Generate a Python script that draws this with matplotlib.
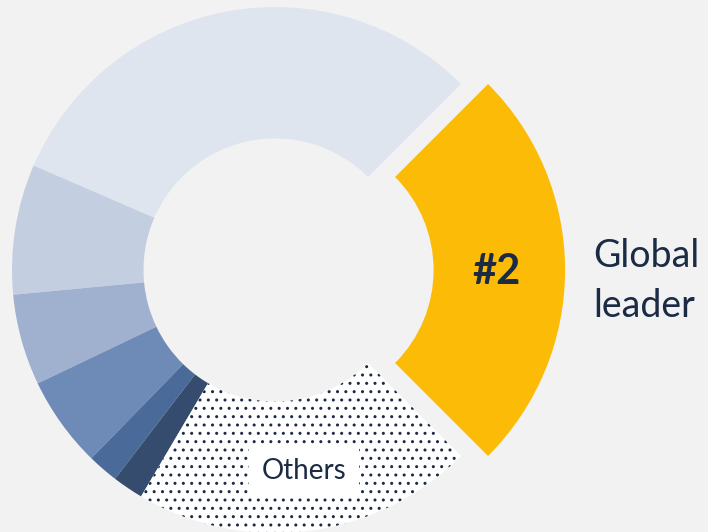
import matplotlib
matplotlib.use("Agg")
import matplotlib.pyplot as plt
import numpy as np

# ---- data (share of market, %), counter-clockwise starting at the "#2" slice
labels = ["#2", "Competitor A", "Competitor B", "Competitor C", "Competitor D",
          "Competitor E", "Competitor F", "Others"]
values = [25.0, 31.0, 8.0, 5.6, 5.6, 1.9, 1.9, 21.0]
colors = ["#fbbb07", "#dfe5ef", "#c3cfe1", "#9fb1cf", "#6d8bb6",
          "#4a6a99", "#354c6e", "#ffffff"]
explode = [0.103, 0, 0, 0, 0, 0, 0, 0]

navy = "#1c2b45"
bg = "#f2f2f2"

plt.rcParams["font.family"] = ["Lato", "DejaVu Sans"]
plt.rcParams["hatch.linewidth"] = 1.0

fig = plt.figure(figsize=(7.08, 5.32), dpi=100, facecolor=bg)
ax = fig.add_axes([0, 0, 1, 1])
ax.set_facecolor(bg)

wedges, _ = ax.pie(values, colors=colors, startangle=-45, counterclock=True,
                   explode=explode, radius=1.0,
                   wedgeprops=dict(width=0.5, linewidth=0))

# dotted "Others" slice
others = wedges[-1]
others.set_hatch("..")
others.set_edgecolor(navy)
others.set_linewidth(0)

# limits so that 1 radius = 263 px and centre sits at pixel (275, 270)
R = 263.0
cx, cy = 275.0, 270.0
ax.set_xlim(-cx / R, (708 - cx) / R)
ax.set_ylim(-(532 - cy) / R, cy / R)
ax.set_aspect("auto")
ax.axis("off")

# "#2" label in the middle of the exploded slice
w0 = wedges[0]
mid = np.deg2rad((w0.theta1 + w0.theta2) / 2)
r_mid = explode[0] + 0.75
ax.text(r_mid * np.cos(mid) - 0.01, r_mid * np.sin(mid) - 0.008, labels[0],
        ha="center", va="center", fontsize=30, fontweight="bold", color=navy)

# side annotation
ax.text(1.209, 0.0114, "Global", ha="left", va="baseline", fontsize=27, color=navy)
ax.text(1.209, -0.1787, "leader", ha="left", va="baseline", fontsize=27, color=navy)

# "Others" label with white box
wl = wedges[-1]
midl = np.deg2rad((wl.theta1 + wl.theta2) / 2)
ax.text(0.75 * np.cos(midl) + 0.016, 0.75 * np.sin(midl) - 0.022, labels[-1],
        ha="center", va="center", fontsize=20, color=navy,
        bbox=dict(boxstyle="square,pad=0.45", facecolor="white", edgecolor="none"))

fig.savefig("out.png", dpi=100, facecolor=bg)
